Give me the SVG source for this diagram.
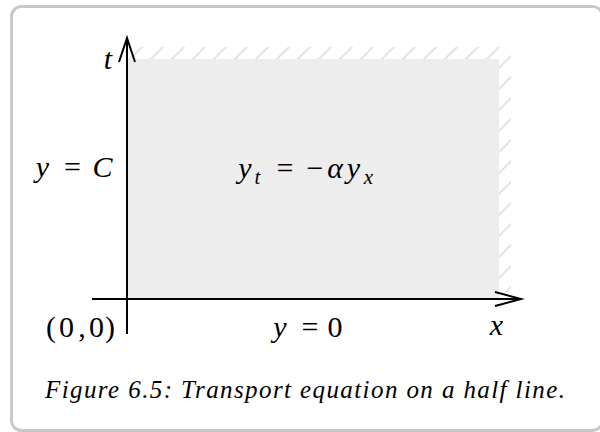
<svg xmlns="http://www.w3.org/2000/svg" width="600" height="432" viewBox="0 0 600 432">
<style>
.m{font-style:italic;font-size:30px;fill:#000;text-anchor:middle}
.u{font-style:normal;font-size:30px;fill:#000;text-anchor:middle}
.s{font-size:21px}
.cap{font-style:italic;font-size:25px;fill:#000}
.ax{fill:none;stroke:#000;stroke-width:2}
</style>
<defs>
<pattern id="hatch" patternUnits="userSpaceOnUse" width="21" height="21">
<path d="M0,21 L21,0 M-2,2 L2,-2 M19,23 L23,19" stroke="#e3e3e3" stroke-width="2"/>
</pattern>
</defs>
<rect id="frame" x="11.5" y="6.5" width="591" height="424" rx="10" fill="#fff" stroke="#c8c8c8" stroke-width="3"/>
<g id="domain">
<path d="M128,47 L511,47 L511,292 L499,292 L499,59 L128,59 Z" fill="url(#hatch)"/>
<rect x="128" y="59" width="371" height="239" fill="#ededed"/>
</g>
<g id="connectors">
<line class="ax" x1="127" y1="334" x2="127" y2="38"/>
<polyline class="ax" points="119,62 127,38 135,62"/>
<line class="ax" x1="92" y1="299" x2="521" y2="299"/>
<polyline class="ax" points="495,292 521,299 495,306"/>
</g>
<g font-family="Liberation Serif, Times New Roman, serif">
<g id="label-t"><text class="m" x="108" y="69">t</text></g>
<g id="label-yC">
<text class="m" x="42.5" y="177">y</text>
<text class="u" x="72.5" y="177">=</text>
<text class="m" x="102.5" y="177">C</text>
</g>
<g id="label-pde">
<text class="m" x="245" y="178">y</text>
<text class="m s" x="257.5" y="184">t</text>
<text class="u" x="285" y="178">=</text>
<text class="u" x="315" y="178">−</text>
<text class="m" x="335" y="178">α</text>
<text class="m" x="353.5" y="178">y</text>
<text class="m s" x="368.5" y="184">x</text>
</g>
<g id="label-origin">
<text class="u" x="51" y="337">(</text>
<text class="u" x="66.5" y="337">0</text>
<text class="u" x="82" y="337">,</text>
<text class="u" x="96.5" y="337">0</text>
<text class="u" x="110" y="337">)</text>
</g>
<g id="label-y0">
<text class="m" x="280" y="337">y</text>
<text class="u" x="310" y="337">=</text>
<text class="u" x="335" y="337">0</text>
</g>
<g id="label-x"><text class="m" x="496.5" y="335">x</text></g>
<g id="caption"><text class="cap" x="45" y="398" textLength="520" lengthAdjust="spacing">Figure 6.5: Transport equation on a half line.</text></g>
</g>
</svg>
